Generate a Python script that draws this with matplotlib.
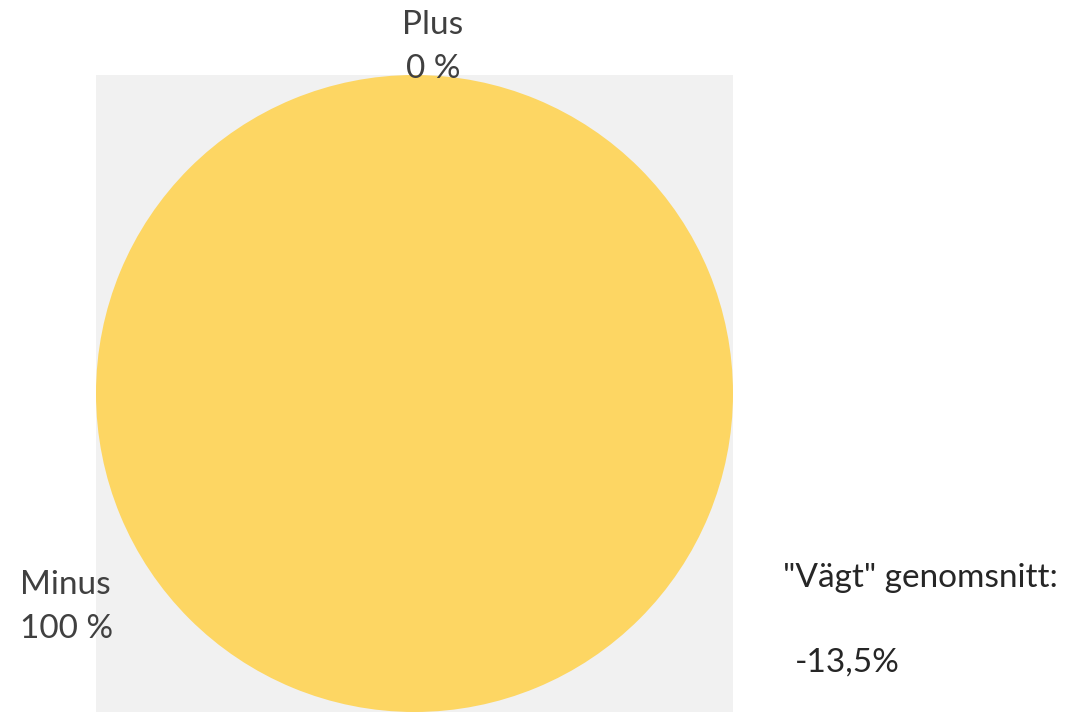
import matplotlib.pyplot as plt

labels = ["Plus", "Minus"]
shares = [0, 100]
weighted_avg = "-13,5%"

colors = ["#5B9BD5", "#FDD663"]
text_color = "#404040"
W, H = 1068, 712

plt.rcParams["font.family"] = ["Lato", "DejaVu Sans"]

fig = plt.figure(figsize=(W / 100, H / 100), dpi=100)
ax = fig.add_axes([96 / W, 0, 637 / W, 637 / H])
ax.pie(shares, colors=colors, startangle=90, counterclock=False,
       radius=1.0, wedgeprops={"linewidth": 0})
ax.set_xlim(-1, 1)
ax.set_ylim(-1, 1)
ax.set_aspect("auto")
ax.set_frame_on(True)
ax.set_facecolor("#F1F1F1")
for s in ax.spines.values():
    s.set_visible(False)
ax.set_xticks([])
ax.set_yticks([])


def px(x, y):
    return x / W, 1 - y / H


# data labels
label_pos = {"Plus": (433, 47, "center"), "Minus": (20, 607, "left")}
for lab, val in zip(labels, shares):
    x, y, ha = label_pos[lab]
    fig.text(*px(x, y), f"{lab}\n{val} %", ha=ha, va="center",
             fontsize=24, color=text_color, linespacing=1.62)

fig.text(*px(783, 578), '"Vägt" genomsnitt:', ha="left", va="center",
         fontsize=24, color="#262626")
fig.text(*px(795, 663), weighted_avg, ha="left", va="center",
         fontsize=24, color="#262626")

fig.savefig("out.png", dpi=100)
